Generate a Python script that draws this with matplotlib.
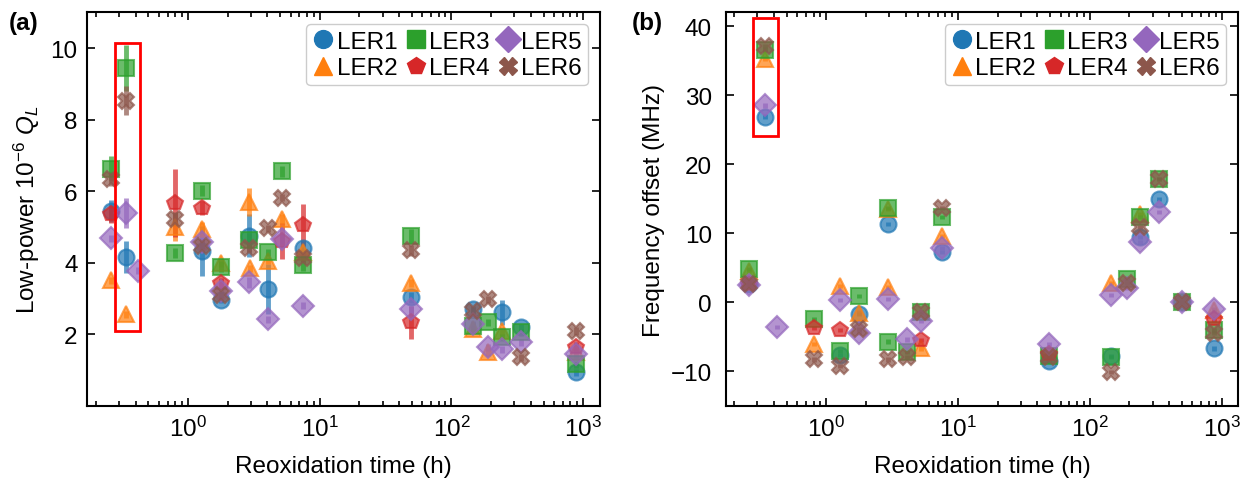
import matplotlib
matplotlib.use("Agg")
import matplotlib.pyplot as plt
from matplotlib.lines import Line2D
from matplotlib.patches import Rectangle
from matplotlib.ticker import LogLocator

plt.rcParams['font.family'] = ['Liberation Sans', 'DejaVu Sans']
plt.rcParams['mathtext.fontset'] = 'custom'
plt.rcParams['mathtext.rm'] = 'Liberation Sans'
plt.rcParams['mathtext.it'] = 'Liberation Sans:italic'
FS = 17.5
plt.rcParams['font.size'] = FS

labels = ['LER1', 'LER2', 'LER3', 'LER4', 'LER5', 'LER6']
markers = ['o', '^', 's', 'p', 'D', 'X']
colors = ['#1f77b4', '#ff7f0e', '#2ca02c', '#d62728', '#9467bd', '#8c564b']

# ---- panel (a): low-power quality factor (x 1e-6) ----
t_q1 = [0.26, 0.34, 1.28, 1.78, 2.92, 4.07, 7.5, 49, 146, 240, 340, 880]
q1 = [5.45, 4.15, 4.33, 2.96, 4.75, 3.26, 4.40, 3.03, 2.70, 2.61, 2.19, 0.93]
e1 = [0.30, 0.45, 0.70, 0.10, 0.60, 0.70, 0.20, 0.15, 0.10, 0.35, 0.10, 0.10]

t_q2 = [0.26, 0.34, 0.8, 1.28, 1.78, 2.92, 2.95, 4.07, 5.2, 7.5, 49, 146, 190, 240, 880]
q2 = [3.51, 2.56, 5.00, 4.94, 3.99, 5.70, 3.84, 4.05, 5.22, 4.30, 3.43, 2.14, 1.50, 2.09, 1.50]
e2 = [0.10, 0.10, 0.40, 0.20, 0.10, 0.40, 0.10, 0.10, 0.15, 0.10, 0.10, 0.10, 0.10, 0.10, 0.10]

t_q3 = [0.26, 0.34, 0.8, 1.28, 1.78, 2.92, 4.07, 5.2, 7.5, 49, 146, 190, 240, 340, 880]
q3 = [6.62, 9.44, 4.27, 6.01, 3.89, 4.62, 4.29, 6.55, 3.93, 4.75, 2.23, 2.33, 1.91, 2.05, 1.16]
e3 = [0.35, 0.65, 0.15, 0.15, 0.15, 0.20, 0.10, 0.15, 0.15, 0.20, 0.10, 0.10, 0.10, 0.10, 0.10]

t_q4 = [0.26, 0.8, 1.28, 1.78, 5.2, 7.5, 49, 880]
q4 = [5.36, 5.68, 5.52, 3.43, 4.61, 5.05, 2.33, 1.63]
e4 = [0.25, 0.95, 0.20, 0.15, 0.50, 0.58, 0.47, 0.15]

t_q5 = [0.26, 0.34, 0.42, 1.28, 1.78, 2.92, 4.07, 5.2, 7.5, 49, 146, 190, 240, 340, 880]
q5 = [4.68, 5.38, 3.77, 4.58, 3.21, 3.45, 2.42, 4.66, 2.80, 2.70, 2.28, 1.63, 1.58, 1.77, 1.44]
e5 = [0.10, 0.42, 0.10, 0.10, 0.10, 0.15, 0.10, 0.15, 0.10, 0.10, 0.10, 0.10, 0.10, 0.10, 0.10]

t_q6 = [0.26, 0.34, 0.8, 1.28, 1.78, 2.92, 4.07, 5.2, 7.5, 49, 146, 190, 340, 880]
q6 = [6.34, 8.53, 5.22, 4.47, 3.09, 4.40, 4.96, 5.82, 4.12, 4.35, 2.65, 2.98, 1.35, 2.09]
e6 = [0.20, 0.40, 0.20, 0.10, 0.10, 0.10, 0.10, 0.10, 0.10, 0.15, 0.10, 0.10, 0.10, 0.10]

# ---- panel (b): frequency offset (MHz) ----
t_f1 = [0.26, 0.34, 1.28, 1.78, 2.92, 7.5, 49, 146, 240, 336, 497, 880]
f1 = [2.6, 26.9, -7.7, -1.76, 11.3, 7.3, -8.5, -7.8, 9.5, 15.0, 0.0, -6.7]

t_f2 = [0.26, 0.34, 0.8, 1.28, 1.78, 2.92, 2.95, 5.2, 7.5, 146, 240, 880]
f2 = [4.5, 35.3, -6.0, 2.4, -1.5, 13.5, 2.2, -6.7, 9.6, 2.8, 12.8, -1.2]

t_f3 = [0.26, 0.34, 0.8, 1.28, 1.78, 2.92, 2.95, 4.07, 5.2, 7.5, 49, 146, 190, 240, 336, 497, 880]
f3 = [4.77, 36.6, -2.4, -7.1, 0.9, 13.6, -5.7, -7.2, -1.4, 12.4, -7.8, -7.9, 3.3, 12.3, 17.8, 0.0, -4.1]

t_f4 = [0.26, 0.8, 1.28, 5.2, 49, 880]
f4 = [2.7, -3.75, -4.0, -5.5, -7.5, -2.5]

t_f5 = [0.26, 0.34, 0.42, 1.28, 1.78, 2.95, 4.07, 5.2, 7.5, 49, 146, 190, 240, 336, 497, 880]
f5 = [2.45, 28.5, -3.6, 0.35, -4.4, 0.4, -5.4, -2.7, 7.9, -6.1, 1.0, 2.0, 8.7, 13.1, 0.0, -0.95]

t_f6 = [0.26, 0.34, 0.8, 1.28, 1.78, 2.95, 4.07, 5.2, 7.5, 49, 146, 190, 240, 336, 497, 880]
f6 = [2.6, 37.1, -8.3, -9.3, -3.85, -8.3, -7.9, -1.4, 13.6, -7.9, -10.1, 2.8, 10.9, 17.8, 0.0, -4.4]

# highlighted region (red box)
box_t = [0.279, 0.433]
box_q = [2.09, 10.13]
box_f = [24.1, 41.2]

q_sets = [(t_q1, q1, e1), (t_q2, q2, e2), (t_q3, q3, e3),
          (t_q4, q4, e4), (t_q5, q5, e5), (t_q6, q6, e6)]
f_sets = [(t_f1, f1), (t_f2, f2), (t_f3, f3), (t_f4, f4), (t_f5, f5), (t_f6, f6)]

fig = plt.figure(figsize=(12.46, 4.85), dpi=100)
axA = fig.add_axes([0.0701, 0.1614, 0.4114, 0.8112])
axB = fig.add_axes([0.5824, 0.1614, 0.4114, 0.8112])

MS = 11.5
for i, (t, q, e) in enumerate(q_sets):
    axA.errorbar(t, q, yerr=e, fmt=markers[i], color=colors[i], ms=MS,
                 mec=colors[i], mew=1.5, alpha=0.7, elinewidth=3.5, capsize=0)
for i, (t, f) in enumerate(f_sets):
    axB.errorbar(t, f, yerr=0.3, fmt=markers[i], color=colors[i], ms=MS,
                 mec=colors[i], mew=1.5, alpha=0.7, elinewidth=3.5, capsize=0)

axA.add_patch(Rectangle((box_t[0], box_q[0]), box_t[1] - box_t[0], box_q[1] - box_q[0],
                        fill=False, ec='red', lw=2, zorder=5))
axB.add_patch(Rectangle((box_t[0], box_f[0]), box_t[1] - box_t[0], box_f[1] - box_f[0],
                        fill=False, ec='red', lw=2, zorder=5))

for ax in (axA, axB):
    ax.set_xscale('log')
    ax.set_xlim(0.172, 1340)
    ax.xaxis.set_major_locator(LogLocator(base=10, numticks=10))
    ax.xaxis.set_minor_locator(LogLocator(base=10, subs=range(2, 10), numticks=20))
    ax.tick_params(which='both', direction='in', top=True, right=True, width=1.2,
                   labelsize=FS)
    ax.tick_params(which='major', length=6, pad=7)
    ax.tick_params(which='minor', length=3.5)
    for s in ax.spines.values():
        s.set_linewidth(1.5)
    ax.set_xlabel('Reoxidation time (h)', fontsize=FS, labelpad=10)
    handles = [Line2D([], [], ls='none', marker=markers[i], color=colors[i], ms=MS,
                      mec=colors[i]) for i in range(6)]
    leg = ax.legend(handles, labels, ncol=3, loc='upper right', fontsize=FS,
                    markerscale=1.12,
                    handlelength=0.9, handletextpad=0.1, columnspacing=0.3,
                    labelspacing=0.2, borderpad=0.25, borderaxespad=0.5,
                    framealpha=1, edgecolor='#cccccc', fancybox=True)

axA.set_ylim(0, 11)
axA.set_yticks([2, 4, 6, 8, 10])
axA.set_ylabel(r'Low-power $10^{-6}$ $Q_L$', fontsize=FS, labelpad=6)

axB.set_ylim(-15, 42)
axB.set_yticks([-10, 0, 10, 20, 30, 40])
axB.tick_params(axis='y', which='major', pad=10)
axB.set_ylabel('Frequency offset (MHz)', fontsize=FS, labelpad=4)

fig.text(0.007, 0.975, '(a)', fontsize=FS, fontweight='bold', va='top', ha='left')
fig.text(0.507, 0.975, '(b)', fontsize=FS, fontweight='bold', va='top', ha='left')

fig.savefig('out.png', dpi=100)
